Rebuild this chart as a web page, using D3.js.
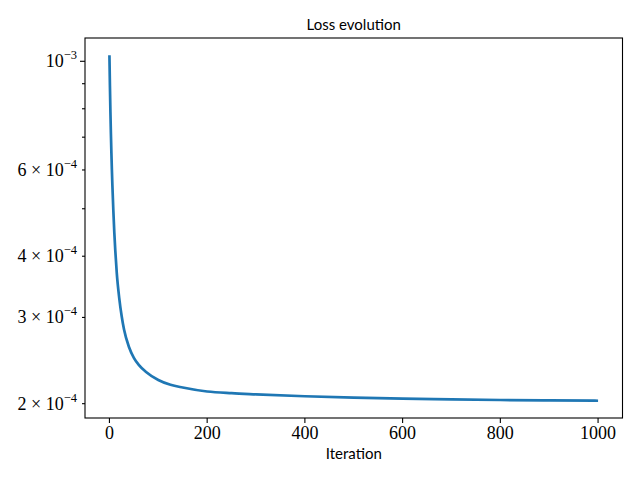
<!DOCTYPE html>
<html>
<head>
<meta charset="utf-8">
<script src="https://cdn.jsdelivr.net/npm/d3@7"></script>
<style>
  body { margin: 0; background: #fff; }
  svg { display: block; }
</style>
</head>
<body>
<div id="chart"></div>
<script>
// values
const iterations = [0, 1, 2, 3, 4, 5, 6, 8, 10, 12, 15, 20, 25, 30, 40, 50, 60, 75, 100, 125, 150,
  200, 250, 300, 400, 500, 600, 700, 800, 900, 1000];
const loss = [1.0287e-3, 8.93e-4, 7.90e-4, 7.12e-4, 6.51e-4, 6.01e-4, 5.60e-4, 4.96e-4, 4.47e-4, 4.106e-4,
  3.70e-4, 3.29e-4, 3.02e-4, 2.83e-4, 2.61e-4, 2.48e-4, 2.40e-4, 2.322e-4, 2.236e-4, 2.186e-4, 2.158e-4,
  2.118e-4, 2.101e-4, 2.090e-4, 2.071e-4, 2.058e-4, 2.048e-4, 2.041e-4, 2.035e-4, 2.031e-4, 2.028e-4];

const xTicks = [0, 200, 400, 600, 800, 1000];
// labelled y ticks: [mantissa, exponent]
const yLabelled = [[1, -3], [6, -4], [4, -4], [3, -4], [2, -4]];
const yUnlabelled = [9e-4, 8e-4, 7e-4, 5e-4];

const title = "Loss evolution";
const xTitle = "Iteration";

const data = iterations.map((it, i) => ({it: it, v: loss[i]}));

const width = 640, height = 480;
const margin = {top: 38, right: 17.5, bottom: 62, left: 85};

const svg = d3.select("#chart").append("svg")
  .attr("width", width)
  .attr("height", height);

const x = d3.scaleLinear()
  .domain([-50, 1050])
  .range([margin.left, width - margin.right]);

// matplotlib style 5% padding in log space
const lmin = Math.log10(d3.min(loss)), lmax = Math.log10(d3.max(loss));
const pad = (lmax - lmin) * 0.05;
const y = d3.scaleLog()
  .domain([Math.pow(10, lmin - pad), Math.pow(10, lmax + pad)])
  .range([height - margin.bottom, margin.top]);

const serif = "'Liberation Serif', 'DejaVu Serif', serif";
const sans = "Lato, 'Open Sans', 'DejaVu Sans', sans-serif";

// line
const line = d3.line()
  .x(d => x(d.it))
  .y(d => y(d.v))
  .curve(d3.curveMonotoneX);

svg.append("path")
  .datum(data)
  .attr("fill", "none")
  .attr("stroke", "#1f77b4")
  .attr("stroke-width", 2.7)
  .attr("stroke-linejoin", "round")
  .attr("stroke-linecap", "butt")
  .attr("d", line);

// frame
svg.append("rect")
  .attr("x", margin.left)
  .attr("y", margin.top)
  .attr("width", width - margin.left - margin.right)
  .attr("height", height - margin.top - margin.bottom)
  .attr("fill", "none")
  .attr("stroke", "#000")
  .attr("stroke-width", 1.1);

// x axis
const xAxis = svg.append("g")
  .attr("transform", `translate(0,${height - margin.bottom})`);
xAxis.selectAll("line")
  .data(xTicks)
  .join("line")
    .attr("x1", d => x(d)).attr("x2", d => x(d))
    .attr("y1", 0).attr("y2", 5)
    .attr("stroke", "#000")
    .attr("stroke-width", 1.1);
xAxis.selectAll("text")
  .data(xTicks)
  .join("text")
    .attr("x", d => x(d))
    .attr("y", 21)
    .attr("text-anchor", "middle")
    .attr("font-family", serif)
    .attr("font-size", "18px")
    .text(d => d);

// y axis
const yAxis = svg.append("g");
yAxis.selectAll("line.minor")
  .data(yUnlabelled)
  .join("line")
    .attr("class", "minor")
    .attr("x1", margin.left - 3).attr("x2", margin.left)
    .attr("y1", d => y(d)).attr("y2", d => y(d))
    .attr("stroke", "#000")
    .attr("stroke-width", 1.1);
yAxis.selectAll("line.lab")
  .data(yLabelled)
  .join("line")
    .attr("class", "lab")
    .attr("x1", d => margin.left - (d[0] === 1 ? 5 : 3)).attr("x2", margin.left)
    .attr("y1", d => y(d[0] * Math.pow(10, d[1]))).attr("y2", d => y(d[0] * Math.pow(10, d[1])))
    .attr("stroke", "#000")
    .attr("stroke-width", 1.1);

const yt = yAxis.selectAll("text")
  .data(yLabelled)
  .join("text")
    .attr("x", margin.left - 8)
    .attr("y", d => y(d[0] * Math.pow(10, d[1])) + 6)
    .attr("text-anchor", "end")
    .attr("font-family", serif)
    .attr("font-size", "18px");
yt.append("tspan").text(d => d[0] === 1 ? "10" : d[0] + " \u00d7 10");
yt.append("tspan")
  .attr("dy", -8)
  .attr("font-size", "12.5px")
  .text(d => "\u2212" + Math.abs(d[1]));

// title and label
svg.append("text")
  .attr("x", (margin.left + width - margin.right) / 2)
  .attr("y", 30)
  .attr("text-anchor", "middle")
  .attr("font-family", sans)
  .attr("font-size", "15px")
  .text(title);

svg.append("text")
  .attr("x", (margin.left + width - margin.right) / 2)
  .attr("y", 459)
  .attr("text-anchor", "middle")
  .attr("font-family", sans)
  .attr("font-size", "15px")
  .text(xTitle);
</script>
</body>
</html>
